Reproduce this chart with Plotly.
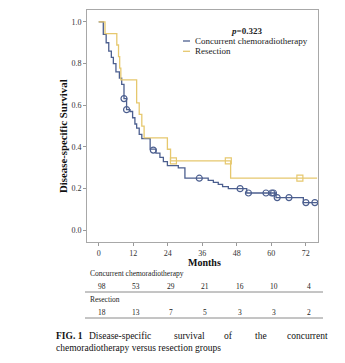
import plotly.graph_objects as go

# ---------------- data ----------------
# Concurrent chemoradiotherapy: Kaplan-Meier step times (months) and survival
cc_t = [0, 1.6, 2.6, 3.5, 4.4, 5.1, 6.0, 7.2, 8.0, 8.8, 9.7, 10.9, 11.8, 12.6, 13.2,
        14.1, 15.0, 17.9, 19.9, 21.3, 22.5, 23.9, 27.7, 30.0, 38.1, 39.9, 41.6, 43.1,
        45.1, 51.5, 61.7, 71.2, 76.0]
cc_s = [1.0, 0.94, 0.90, 0.86, 0.83, 0.80, 0.76, 0.73, 0.70, 0.632, 0.579, 0.57, 0.54,
        0.51, 0.49, 0.46, 0.44, 0.39, 0.37, 0.35, 0.33, 0.31, 0.30, 0.25, 0.24, 0.23,
        0.22, 0.21, 0.20, 0.179, 0.157, 0.133, 0.133]
cc_cens_t = [8.8, 9.7, 19.0, 35.0, 49.2, 52.1, 58.2, 60.2, 60.8, 62.1, 66.2, 72.1, 75.2]
cc_cens_s = [0.632, 0.579, 0.385, 0.25, 0.20, 0.179, 0.179, 0.179, 0.179, 0.157, 0.157,
             0.133, 0.133]

# Resection
rs_t = [0, 2.2, 6.3, 6.9, 7.3, 7.7, 13.2, 14.1, 15.0, 15.8, 23.9, 25.0, 45.9, 76.0]
rs_s = [1.0, 0.944, 0.889, 0.833, 0.778, 0.722, 0.611, 0.556, 0.5, 0.444, 0.389,
        0.333, 0.25, 0.25]
rs_cens_t = [26.0, 45.1, 70.0]
rs_cens_s = [0.333, 0.333, 0.25]

x_ticks = [0, 12, 24, 36, 48, 60, 72]
y_ticks = [0.0, 0.2, 0.4, 0.6, 0.8, 1.0]
risk_cc = [98, 53, 29, 21, 16, 10, 4]
risk_rs = [18, 13, 7, 5, 3, 3, 2]

group_names = ["Concurrent chemoradiotherapy", "Resection"]
p_text = "0.323"

# ---------------- styling ----------------
BLUE = "#4c5f8f"
YEL = "#e6c86e"
FONT = "Liberation Serif"
W, H = 345, 363
L, R, T, B = 87, 27, 10, 121
PW, PH = W - L - R, H - T - B
XR = [-4.07, 76.3]


def px(xp):
    return (xp - L) / PW


def py(yp):
    return (H - B - yp) / PH


def mx(m):
    # month -> pixel x
    return L + (m - XR[0]) / (XR[1] - XR[0]) * PW


fig = go.Figure()
fig.add_trace(go.Scatter(x=cc_t, y=cc_s, mode="lines", line=dict(color=BLUE, width=1.3, shape="hv"),
                         showlegend=False, hoverinfo="skip"))
fig.add_trace(go.Scatter(x=rs_t, y=rs_s, mode="lines", line=dict(color=YEL, width=1.3, shape="hv"),
                         showlegend=False, hoverinfo="skip"))
fig.add_trace(go.Scatter(x=cc_cens_t, y=cc_cens_s, mode="markers",
                         marker=dict(symbol="circle-open", size=6, color=BLUE, line=dict(width=1.2)),
                         showlegend=False, hoverinfo="skip"))
fig.add_trace(go.Scatter(x=rs_cens_t, y=rs_cens_s, mode="markers",
                         marker=dict(symbol="square-open", size=6, color=YEL, line=dict(width=1.2)),
                         showlegend=False, hoverinfo="skip"))

ann = []
shapes = []

# p value and legend
ann.append(dict(x=px(246), y=py(31), xref="paper", yref="paper", showarrow=False,
                text="<b><i>p</i>=" + p_text + "</b>", font=dict(family=FONT, size=9, color="#222"),
                xanchor="center", yanchor="middle"))
for i, (name, col) in enumerate(zip(group_names, [BLUE, YEL])):
    yy = 41 + i * 10.3
    shapes.append(dict(type="line", xref="paper", yref="paper", x0=px(183), x1=px(190),
                       y0=py(yy), y1=py(yy), line=dict(color=col, width=1.3)))
    ann.append(dict(x=px(192.5), y=py(yy), xref="paper", yref="paper", showarrow=False, text=name,
                    font=dict(family=FONT, size=9, color="#222"), xanchor="left", yanchor="middle"))

# axis titles
ann.append(dict(x=px(204), y=py(262), xref="paper", yref="paper", showarrow=False,
                text="<b>Months</b>", font=dict(family=FONT, size=10, color="#111"),
                xanchor="center", yanchor="middle"))
ann.append(dict(x=px(63), y=py(136), xref="paper", yref="paper", showarrow=False, textangle=-90,
                text="<b>Disease-specific Survival</b>", font=dict(family=FONT, size=10.8, color="#111"),
                xanchor="center", yanchor="middle"))

# risk table
ann.append(dict(x=px(88), y=py(273), xref="paper", yref="paper", showarrow=False, text=group_names[0],
                font=dict(family=FONT, size=7.5, color="#222"), xanchor="left", yanchor="middle"))
ann.append(dict(x=px(88), y=py(299.5), xref="paper", yref="paper", showarrow=False, text=group_names[1],
                font=dict(family=FONT, size=7.5, color="#222"), xanchor="left", yanchor="middle"))
for row, yy in ((risk_cc, 286.5), (risk_rs, 312.5)):
    for m, n in zip(x_ticks, row):
        ann.append(dict(x=px(mx(m) + 3), y=py(yy), xref="paper", yref="paper", showarrow=False,
                        text=str(n), font=dict(family=FONT, size=7.5, color="#222"),
                        xanchor="center", yanchor="middle"))
for yy in (292, 318):
    shapes.append(dict(type="line", xref="paper", yref="paper", x0=px(85), x1=px(323),
                       y0=py(yy), y1=py(yy), line=dict(color="#8a8a8a", width=1)))

# caption (justified first line)
cap_words = [("<b>FIG. 1</b>", 54), ("Disease-specific", 87), ("survival", 172), ("of", 222),
             ("the", 253), ("concurrent", 285)]
for wtxt, xx in cap_words:
    ann.append(dict(x=px(xx), y=py(336), xref="paper", yref="paper", showarrow=False, text=wtxt,
                    font=dict(family=FONT, size=9.5, color="#111"), xanchor="left", yanchor="middle"))
ann.append(dict(x=px(54), y=py(347.5), xref="paper", yref="paper", showarrow=False,
                text="chemoradiotherapy versus resection groups",
                font=dict(family=FONT, size=9.5, color="#111"), xanchor="left", yanchor="middle"))

fig.update_layout(
    width=W, height=H, margin=dict(l=L, r=R, t=T, b=B),
    paper_bgcolor="white", plot_bgcolor="white",
    annotations=ann, shapes=shapes, showlegend=False,
    xaxis=dict(range=XR, tickvals=x_ticks, ticks="outside", ticklen=3, tickcolor="#999",
               showline=True, linecolor="#a8a8a8", linewidth=1, mirror=True, showgrid=False,
               zeroline=False, tickfont=dict(family=FONT, size=8, color="#333"), fixedrange=True),
    yaxis=dict(range=[-0.056, 1.057], tickvals=y_ticks, tickformat=".1f", ticks="outside", ticklen=3,
               tickcolor="#999", showline=True, linecolor="#a8a8a8", linewidth=1, mirror=True,
               showgrid=False, zeroline=False, tickfont=dict(family=FONT, size=8, color="#333"),
               fixedrange=True),
)

fig.write_html("out.html", config=dict(displayModeBar=False))
